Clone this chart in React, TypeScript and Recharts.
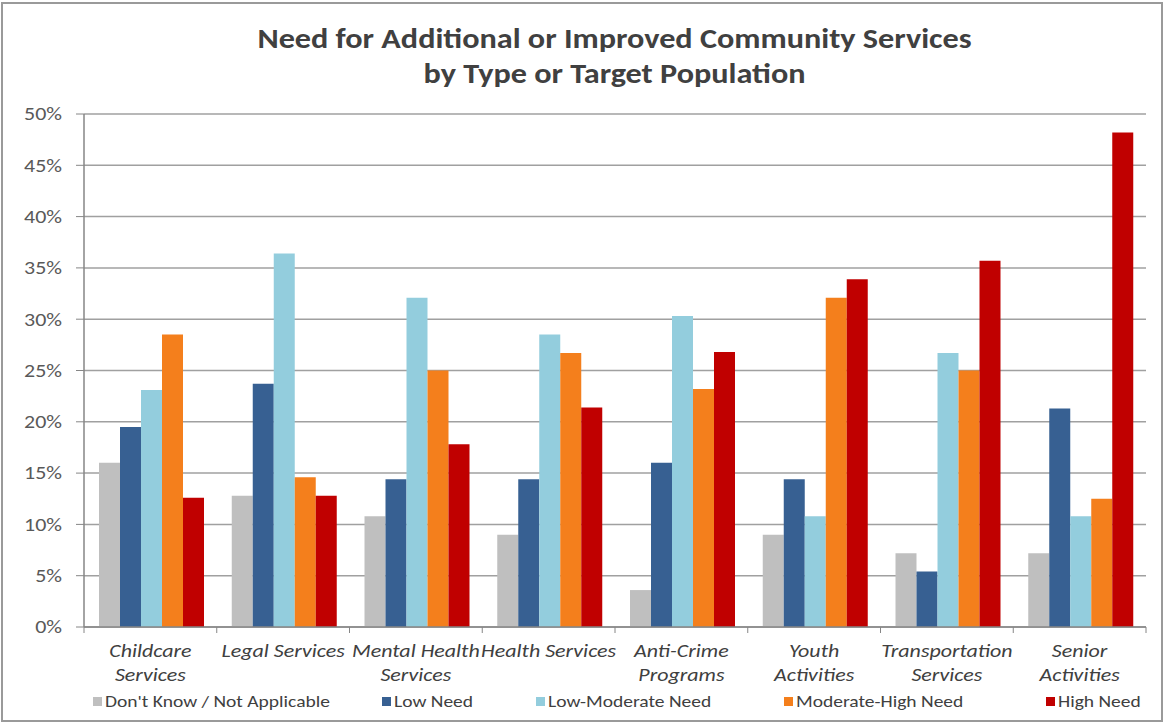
import React from 'react'
import { BarChart, Bar, XAxis, YAxis, CartesianGrid, Legend } from 'recharts'

const FONT = 'Carlito, "Liberation Sans Narrow", "Open Sans", sans-serif'
// the original Excel export is stretched sideways a little
const STRETCH = 1.22

// categories and series values (percent)
const categories = [
  'Childcare\nServices',
  'Legal Services',
  'Mental Health\nServices',
  'Health Services',
  'Anti-Crime\nPrograms',
  'Youth\nActivities',
  'Transportation\nServices',
  'Senior\nActivities'
]
const dontKnow = [16.0, 12.8, 10.8, 9.0, 3.6, 9.0, 7.2, 7.2]
const lowNeed = [19.5, 23.7, 14.4, 14.4, 16.0, 14.4, 5.4, 21.3]
const lowModerate = [23.1, 36.4, 32.1, 28.5, 30.3, 10.8, 26.7, 10.8]
const moderateHigh = [28.5, 14.6, 25.0, 26.7, 23.2, 32.1, 25.0, 12.5]
const highNeed = [12.6, 12.8, 17.8, 21.4, 26.8, 33.9, 35.7, 48.2]
const yTicks = [0, 5, 10, 15, 20, 25, 30, 35, 40, 45, 50]

const SERIES = [
  { key: 'dontKnow', name: "Don't Know / Not Applicable", color: '#BFBFBF' },
  { key: 'lowNeed', name: 'Low Need', color: '#376092' },
  { key: 'lowModerate', name: 'Low-Moderate Need', color: '#93CDDD' },
  { key: 'moderateHigh', name: 'Moderate-High Need', color: '#F47F1C' },
  { key: 'highNeed', name: 'High Need', color: '#C00000' }
]

// legend item left edges (px)
const LEGEND_LEFT = [93, 382, 536, 784, 1046]

const data = categories.map((c, i) => ({
  category: c,
  dontKnow: dontKnow[i],
  lowNeed: lowNeed[i],
  lowModerate: lowModerate[i],
  moderateHigh: moderateHigh[i],
  highNeed: highNeed[i]
}))

const HALF_BAND = 1062 / 8 / 2

// two-line italic category label plus boundary tick marks like Excel
const CategoryTick = ({ x, y, payload, index }: any) => {
  const lines = String(payload.value).split('\n')
  return (
    <g>
      <line x1={x - HALF_BAND} x2={x - HALF_BAND} y1={y - 8} y2={y - 2} stroke="#868686" />
      {index === categories.length - 1 && (
        <line x1={x + HALF_BAND} x2={x + HALF_BAND} y1={y - 8} y2={y - 2} stroke="#868686" />
      )}
      <g transform={`translate(${x},${y + 22}) scale(${STRETCH},1)`}>
        <text x={0} y={0} textAnchor="middle" fill="#404040" fontSize={18} fontStyle="italic" fontFamily={FONT}>
          {lines.map((l, i) => (
            <tspan key={i} x={0} dy={i === 0 ? 0 : 24}>
              {l}
            </tspan>
          ))}
        </text>
      </g>
    </g>
  )
}

const PercentTick = ({ x, y, payload }: any) => (
  <g transform={`translate(${x - 12},${y}) scale(${STRETCH},1)`}>
    <text x={0} y={0} dy="0.35em" textAnchor="end" fill="#595959" fontSize={18} fontFamily={FONT}>
      {`${payload.value}%`}
    </text>
  </g>
)

const LegendContent = () => (
  <div style={{ position: 'relative', height: 36, fontFamily: FONT, fontSize: 16, color: '#404040' }}>
    {SERIES.map((s, i) => (
      <div
        key={s.key}
        style={{ position: 'absolute', left: LEGEND_LEFT[i], top: 2, display: 'flex', alignItems: 'center', height: 24 }}
      >
        <span style={{ width: 9, height: 9, background: s.color, marginRight: 3, display: 'inline-block' }} />
        <span style={{ display: 'inline-block', transform: `scaleX(${STRETCH})`, transformOrigin: 'left center', whiteSpace: 'nowrap' }}>
          {s.name}
        </span>
      </div>
    ))}
  </div>
)

export default function App() {
  return (
    <div style={{ position: 'absolute', left: 0, top: 0, width: 1164, height: 723, background: '#fff' }}>
      <div
        style={{
          position: 'absolute',
          left: 1,
          top: 2,
          width: 1158,
          height: 716,
          border: '2px solid #9a9a9a',
          pointerEvents: 'none'
        }}
      />
      <div
        style={{
          position: 'absolute',
          left: 84,
          width: 1062,
          top: 21,
          textAlign: 'center',
          fontFamily: FONT,
          fontWeight: 'bold',
          fontSize: 28,
          lineHeight: '35px',
          color: '#404040',
          transform: 'scaleX(1.15)',
          transformOrigin: '534px 0'
        }}
      >
        Need for Additional or Improved Community Services
        <br />
        by Type or Target Population
      </div>
      <BarChart
        width={1164}
        height={723}
        data={data}
        margin={{ top: 114, right: 18, bottom: 0, left: 0 }}
        barCategoryGap={15}
        barGap={0}
      >
        <CartesianGrid vertical={false} stroke="#a0a0a0" strokeWidth={1.5} />
        <XAxis
          dataKey="category"
          interval={0}
          height={60}
          tickLine={false}
          axisLine={{ stroke: '#868686', strokeWidth: 1.5 }}
          tick={<CategoryTick />}
        />
        <YAxis
          width={84}
          domain={[0, 50]}
          ticks={yTicks}
          interval={0}
          axisLine={{ stroke: '#868686', strokeWidth: 1.5 }}
          tickLine={{ stroke: '#868686' }}
          tickSize={8}
          tick={<PercentTick />}
        />
        <Legend verticalAlign="bottom" content={<LegendContent />} />
        {SERIES.map((s) => (
          <Bar key={s.key} dataKey={s.key} name={s.name} fill={s.color} isAnimationActive={false} />
        ))}
      </BarChart>
    </div>
  )
}
